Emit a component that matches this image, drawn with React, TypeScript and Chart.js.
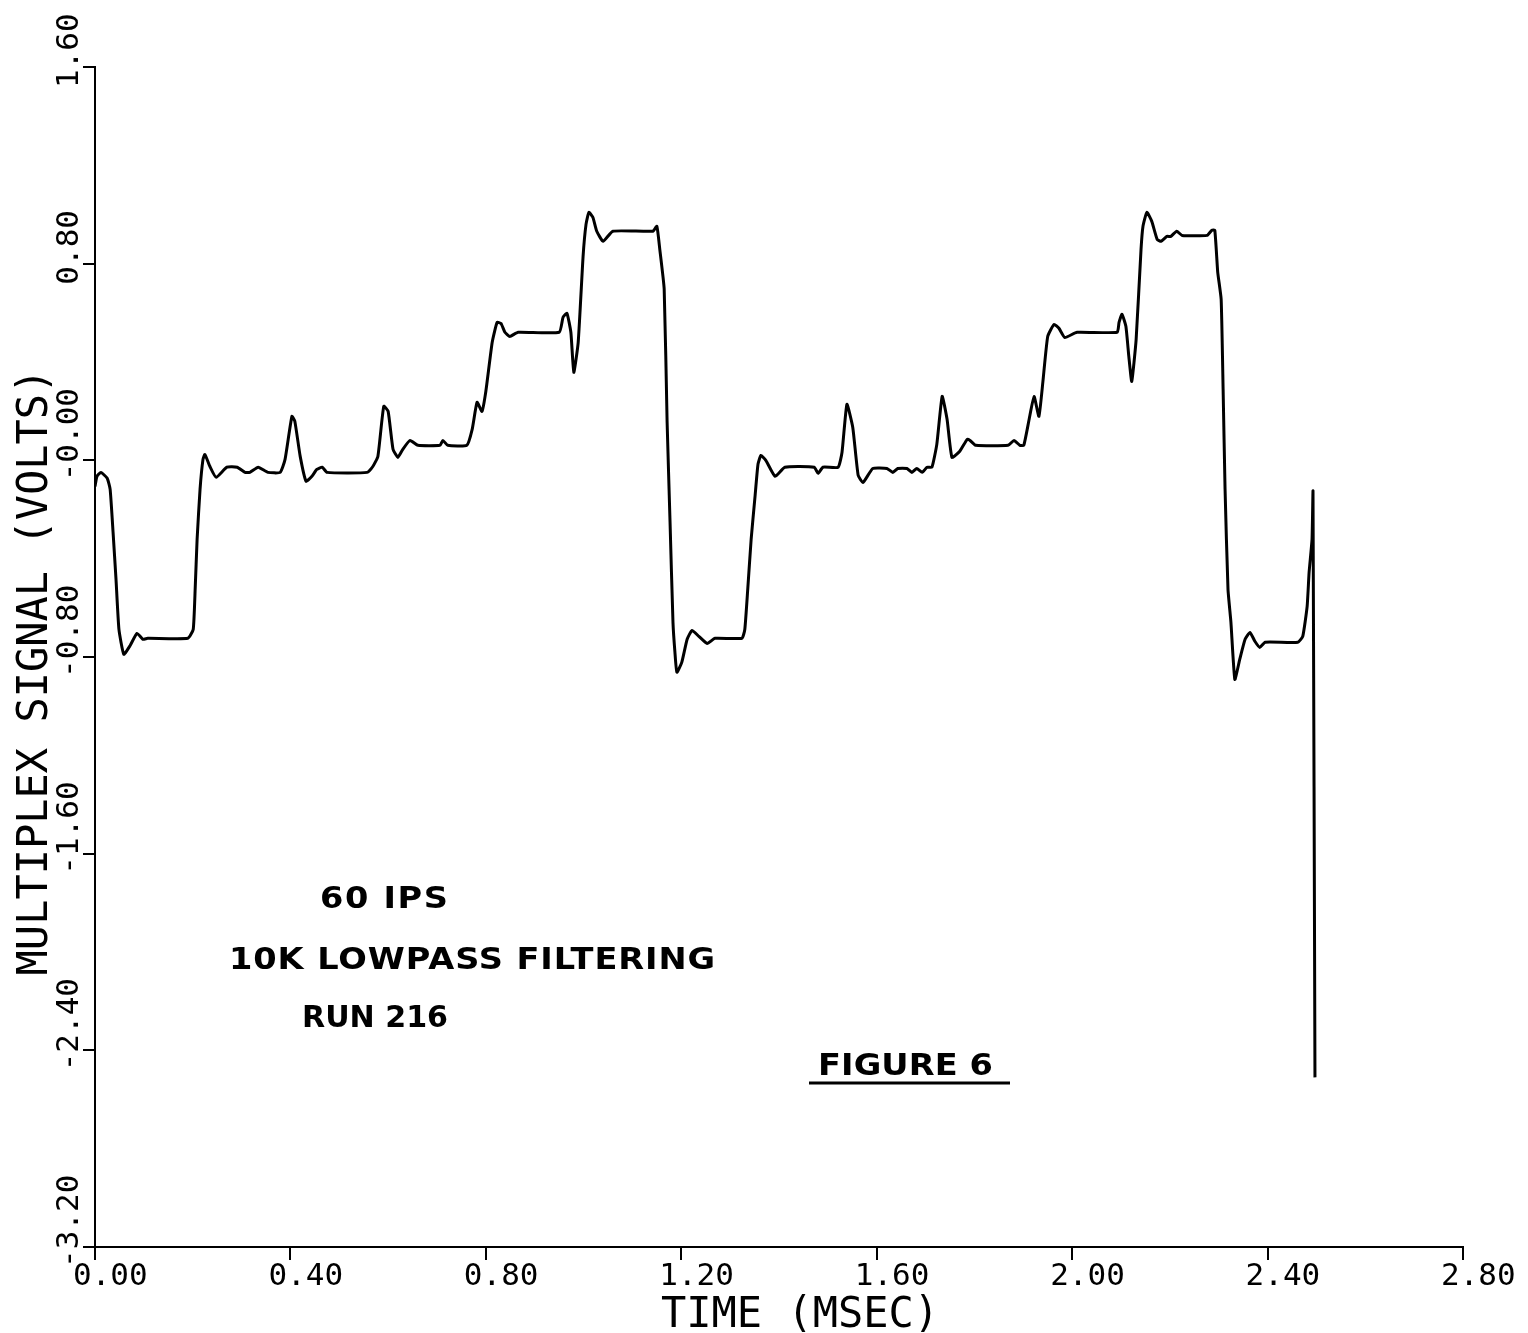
import React, { useEffect, useRef } from 'react';
import { Chart, registerables } from 'chart.js';

Chart.register(...registerables);

const timeMs = [
  0.000, 0.004, 0.012, 0.025, 0.031, 0.037, 0.043, 0.049, 0.059, 0.072,
  0.086, 0.098, 0.108, 0.190, 0.201, 0.205, 0.209, 0.215, 0.221, 0.225,
  0.235, 0.248, 0.270, 0.291, 0.307, 0.317, 0.334, 0.354, 0.379, 0.389,
  0.403, 0.409, 0.420, 0.432, 0.444, 0.454, 0.465, 0.475, 0.557, 0.569,
  0.579, 0.591, 0.600, 0.610, 0.620, 0.630, 0.645, 0.661, 0.706, 0.712,
  0.722, 0.761, 0.772, 0.782, 0.792, 0.800, 0.813, 0.823, 0.831, 0.839,
  0.849, 0.866, 0.950, 0.958, 0.966, 0.974, 0.980, 0.989, 0.999, 1.005,
  1.011, 1.019, 1.027, 1.040, 1.060, 1.142, 1.150, 1.156, 1.165, 1.171,
  1.177, 1.183, 1.187, 1.191, 1.201, 1.212, 1.222, 1.236, 1.253, 1.269,
  1.324, 1.330, 1.336, 1.343, 1.351, 1.357, 1.363, 1.373, 1.392, 1.412,
  1.472, 1.480, 1.490, 1.521, 1.529, 1.539, 1.551, 1.562, 1.572, 1.592,
  1.621, 1.633, 1.643, 1.662, 1.672, 1.682, 1.693, 1.703, 1.713, 1.723,
  1.734, 1.744, 1.754, 1.770, 1.785, 1.791, 1.803, 1.869, 1.881, 1.893,
  1.901, 1.912, 1.922, 1.932, 1.940, 1.950, 1.963, 1.973, 1.985, 2.010,
  2.092, 2.096, 2.102, 2.110, 2.116, 2.122, 2.131, 2.141, 2.145, 2.153,
  2.163, 2.174, 2.182, 2.194, 2.202, 2.214, 2.225, 2.276, 2.286, 2.292,
  2.298, 2.305, 2.309, 2.313, 2.319, 2.325, 2.333, 2.343, 2.354, 2.364,
  2.374, 2.384, 2.395, 2.462, 2.472, 2.481, 2.485, 2.491, 2.493, 2.497,
];

const signalVolts = [
  -0.106, -0.065, -0.049, -0.073, -0.118, -0.293, -0.484, -0.688, -0.789, -0.753,
  -0.704, -0.728, -0.724, -0.724, -0.688, -0.525, -0.321, -0.118, 0.004, 0.024,
  -0.024, -0.069, -0.028, -0.028, -0.049, -0.049, -0.028, -0.049, -0.049, 0.004,
  0.179, 0.159, 0.016, -0.085, -0.065, -0.037, -0.028, -0.049, -0.049, -0.024,
  0.016, 0.220, 0.199, 0.045, 0.012, 0.045, 0.081, 0.061, 0.061, 0.081,
  0.061, 0.061, 0.126, 0.236, 0.199, 0.281, 0.480, 0.561, 0.557, 0.521,
  0.504, 0.521, 0.521, 0.582, 0.598, 0.521, 0.358, 0.480, 0.830, 0.960,
  1.009, 0.989, 0.932, 0.891, 0.932, 0.932, 0.952, 0.858, 0.696, 0.155,
  -0.252, -0.659, -0.781, -0.862, -0.822, -0.728, -0.692, -0.716, -0.745, -0.724,
  -0.724, -0.688, -0.525, -0.321, -0.146, -0.016, 0.020, 0.000, -0.065, -0.028,
  -0.028, -0.053, -0.028, -0.028, 0.033, 0.228, 0.134, -0.061, -0.090, -0.033,
  -0.033, -0.049, -0.033, -0.033, -0.049, -0.033, -0.049, -0.028, -0.028, 0.065,
  0.260, 0.167, 0.012, 0.037, 0.085, 0.081, 0.061, 0.061, 0.081, 0.061,
  0.061, 0.167, 0.260, 0.179, 0.317, 0.504, 0.553, 0.537, 0.500, 0.521,
  0.521, 0.561, 0.594, 0.545, 0.423, 0.321, 0.492, 0.858, 0.952, 1.009,
  0.972, 0.899, 0.891, 0.911, 0.911, 0.932, 0.915, 0.915, 0.936, 0.936,
  0.765, 0.655, 0.289, -0.118, -0.525, -0.659, -0.891, -0.810, -0.728, -0.700,
  -0.736, -0.761, -0.740, -0.740, -0.716, -0.594, -0.456, -0.321, -0.126, -2.510,
];

const xTickValues = [0, 0.4, 0.8, 1.2, 1.6, 2.0, 2.4, 2.8];
const xTickLabels = ['0.00', '0.40', '0.80', '1.20', '1.60', '2.00', '2.40', '2.80'];
const yTickValues = [-3.2, -2.4, -1.6, -0.8, 0, 0.8, 1.6];
const yTickLabels = ['-3.20', '-2.40', '-1.60', '-0.80', '-0.00', '0.80', '1.60'];
const xTitle = 'TIME (MSEC)';
const yTitle = 'MULTIPLEX SIGNAL (VOLTS)';
const noteLines = ['60 IPS', '10K LOWPASS FILTERING', 'RUN 216'];
const figureLabel = 'FIGURE 6';

// annotation placement: [left, baseline, target width]
const notePlacement = [
  [320, 908, 128],
  [229, 969, 486],
  [302, 1027, 146],
];
const figurePlacement = [818, 1075, 175];

function fitText(ctx: CanvasRenderingContext2D, text: string, x: number, y: number, width: number) {
  (ctx as any).letterSpacing = '0px';
  const w0 = ctx.measureText(text).width;
  let sx = width / w0;
  sx = Math.min(1.12, Math.max(0.92, sx));
  const rest = width / sx - w0;
  const sp = rest / Math.max(1, text.length - 1);
  (ctx as any).letterSpacing = sp.toFixed(2) + 'px';
  ctx.save();
  ctx.translate(x, y);
  ctx.scale(sx, 1);
  ctx.fillText(text, 0, 0);
  ctx.restore();
  (ctx as any).letterSpacing = '0px';
}

const plotterLabels = {
  id: 'plotterLabels',
  afterDraw(chart: any) {
    const ctx: CanvasRenderingContext2D = chart.ctx;
    const xs = chart.scales.x;
    const ys = chart.scales.y;
    const area = chart.chartArea;
    ctx.save();
    ctx.fillStyle = '#000';
    ctx.strokeStyle = '#000';
    ctx.textBaseline = 'alphabetic';
    ctx.textAlign = 'left';
    ctx.font = '31px "DejaVu Sans Mono"';
    xTickValues.forEach((v, i) => {
      const px = xs.getPixelForValue(v);
      ctx.fillText(xTickLabels[i], px - 22, area.bottom + 38);
    });
    yTickValues.forEach((v, i) => {
      const py = ys.getPixelForValue(v);
      ctx.save();
      ctx.translate(area.left - 17, py + 21);
      ctx.rotate(-Math.PI / 2);
      ctx.fillText(yTickLabels[i], 0, 0);
      ctx.restore();
    });

    // axis titles
    ctx.font = '42px "DejaVu Sans Mono"';
    ctx.textAlign = 'center';
    ctx.fillText(xTitle, 800, 1327);
    ctx.save();
    ctx.translate(47, 672);
    ctx.rotate(-Math.PI / 2);
    ctx.fillText(yTitle, 0, 0);
    ctx.restore();

    // annotations
    ctx.textAlign = 'left';
    ctx.font = 'bold 30px "DejaVu Sans"';
    noteLines.forEach((t, i) => {
      const [lx, by, w] = notePlacement[i];
      fitText(ctx, t, lx, by, w);
    });
    fitText(ctx, figureLabel, figurePlacement[0], figurePlacement[1], figurePlacement[2]);
    ctx.lineWidth = 3;
    ctx.beginPath();
    ctx.moveTo(809, 1083);
    ctx.lineTo(1010, 1083);
    ctx.stroke();
    ctx.restore();
  },
};

export default function App() {
  const ref = useRef<HTMLCanvasElement | null>(null);
  useEffect(() => {
    if (!ref.current) return;
    const points = timeMs.map((t, i) => ({ x: t, y: signalVolts[i] }));
    const chart = new Chart(ref.current, {
      type: 'line',
      data: {
        datasets: [
          {
            data: points,
            borderColor: '#000',
            borderWidth: 3,
            pointRadius: 0,
            fill: false,
            tension: 0.15,
            borderJoinStyle: 'round',
          } as any,
        ],
      },
      options: {
        animation: false,
        responsive: false,
        maintainAspectRatio: false,
        devicePixelRatio: 1,
        events: [],
        layout: { padding: { top: 67, right: 65, left: 0, bottom: 0 } },
        plugins: { legend: { display: false }, tooltip: { enabled: false } },
        scales: {
          x: {
            type: 'linear',
            min: 0,
            max: 2.8,
            afterFit: (s: any) => { s.height = 86; },
            afterBuildTicks: (s: any) => { s.ticks = xTickValues.map((v) => ({ value: v })); },
            ticks: { display: false },
            grid: { display: true, drawOnChartArea: false, drawTicks: true, tickLength: 13, color: '#000', lineWidth: 2 },
            border: { display: true, color: '#000', width: 2 },
          },
          y: {
            type: 'linear',
            min: -3.2,
            max: 1.6,
            afterFit: (s: any) => { s.width = 95; },
            afterBuildTicks: (s: any) => { s.ticks = yTickValues.map((v) => ({ value: v })); },
            ticks: { display: false },
            grid: { display: true, drawOnChartArea: false, drawTicks: true, tickLength: 12, color: '#000', lineWidth: 2 },
            border: { display: true, color: '#000', width: 2 },
          },
        },
      } as any,
      plugins: [plotterLabels],
    });
    return () => chart.destroy();
  }, []);
  return (
    <div style={{ position: 'absolute', left: 0, top: 0, width: 1528, height: 1333, background: '#fff' }}>
      <canvas ref={ref} width={1528} height={1333} style={{ display: 'block' }} />
    </div>
  );
}
